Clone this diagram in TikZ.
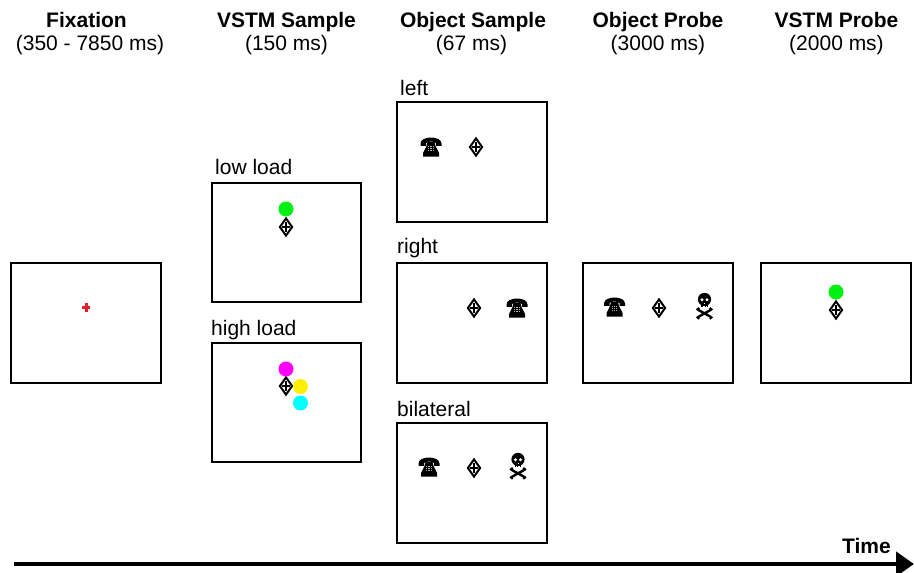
\documentclass[tikz,border=0pt]{standalone}
\usepackage{fontspec}
\setmainfont{Liberation Sans}
\usetikzlibrary{arrows.meta}
\definecolor{dotgreen}{RGB}{0,240,20}
\definecolor{dotmag}{RGB}{255,0,255}
\definecolor{dotyel}{RGB}{255,240,0}
\definecolor{dotcy}{RGB}{0,255,255}
\definecolor{crossred}{RGB}{225,30,40}
\tikzset{
  x=1pt,y=-1pt,
  screen/.style={draw=black,line width=1.4pt,fill=white,inner sep=0pt},
  wide/.style={screen,minimum width=150pt,minimum height=120pt},
  narrow/.style={screen,minimum width=149pt,minimum height=119pt},
  head/.style={align=center,font=\fontsize{21}{23.5}\selectfont,anchor=north,inner sep=0pt},
  lab/.style={anchor=base west,font=\fontsize{21}{23}\selectfont,inner sep=0pt},
  dot/.style={circle,minimum size=15pt,inner sep=0pt},
  fixd/.pic={
    \draw[line width=2pt,miter limit=10] (-6.1,0)--(0,-8.6)--(6.1,0)--(0,8.6)--cycle;
    \draw[line width=1.1pt] (-3.6,0)--(3.6,0) (0,-5)--(0,5);
  },
  phone/.pic={
    % handset
    \fill[black] (-10.5,-3.5) .. controls (-10.5,-11.5) and (10.5,-11.5) .. (10.5,-3.5)
      -- (10.5,-1.2) -- (5,-1.2) -- (5,-4) .. controls (2,-6) and (-2,-6) .. (-5,-4)
      -- (-5,-1.2) -- (-10.5,-1.2) -- cycle;
    % body
    \fill[black] (-3.5,-5) -- (3.5,-5) -- (4.5,-1) -- (8,6) -- (8,9.6) -- (-8,9.6) -- (-8,6) -- (-4.5,-1) -- cycle;
    % dial
    \foreach \dx in {-2.2,0,2.2}\foreach \dy in {0,2.2,4.4}
      \fill[white!70!black] (\dx-.55,\dy-1.2) rectangle (\dx+.55,\dy-.1);
  },
  skull/.pic={
    % cranium and jaw
    \fill[black] (0,-6.6) circle[radius=6.6];
    \fill[black] (-3.4,-3.5) rectangle (3.4,1.2);
    \fill[white] (-2.5,-6.2) circle[radius=1.6];
    \fill[white] (2.5,-6.2) circle[radius=1.6];
    \fill[white] (-.5,-3.2) rectangle (.5,-2);
    \foreach \tx in {-1.7,0,1.7}\fill[white] (\tx-.25,-.4) rectangle (\tx+.25,1.2);
    % crossed bones
    \draw[line width=2.4pt,line cap=round] (-6.4,3.8) -- (6.4,11) (6.4,3.8) -- (-6.4,11);
    \foreach \bx/\by in {-7.2/3.4,-6/2.5,7.2/3.4,6/2.5,-7.2/11.4,-6/12.3,7.2/11.4,6/12.3}
      \fill[black] (\bx,\by) circle[radius=1.3];
  }
}
\begin{document}
\begin{tikzpicture}
\useasboundingbox (0,0) rectangle (914,573);
\fill[white] (0,0) rectangle (914,573);
% headers
\node[head] (h1) at (86.5,12) {\textbf{Fixation}\\\hspace*{7pt}(350 - 7850 ms)};
\node[head] (h2) at (286.5,12) {\textbf{VSTM Sample}\\(150 ms)};
\node[head] (h3) at (473,12) {\textbf{Object Sample}\\\hspace*{-3pt}(67 ms)};
\node[head] (h4) at (658,12) {\textbf{Object Probe}\\(3000 ms)};
\node[head] (h5) at (836.5,12) {\textbf{VSTM Probe}\\(2000 ms)};
% screens
\node[wide] (fix) at (86,323) {};
\node[narrow] (low) at (286.5,242.5) {};
\node[narrow] (high) at (286.5,402.5) {};
\node[wide] (left) at (472,162) {};
\node[wide] (right) at (472,323) {};
\node[wide] (bil) at (472,483) {};
\node[wide] (op) at (658,323) {};
\node[wide] (vp) at (836,323) {};
% labels
\node[lab] (llow) at (215,174) {low load};
\node[lab] (lhigh) at (211,335) {high load};
\node[lab] (lleft) at (400,95) {left};
\node[lab] (lright) at (397,253) {right};
\node[lab] (lbil) at (397,416) {bilateral};
\node[anchor=base east,inner sep=0pt,font=\bfseries\fontsize{21}{23}\selectfont] (ltime) at (891,553) {Time};
% fixation cross
\fill[crossred] (82,305.8) rectangle (90.4,308.8);
\fill[crossred] (84.7,303) rectangle (87.7,311.6);
% diamonds
\pic at (286,227) {fixd};
\pic at (286,386) {fixd};
\pic at (476,147) {fixd};
\pic at (474,308) {fixd};
\pic at (474,468) {fixd};
\pic at (659,308) {fixd};
\pic at (836,310) {fixd};
% coloured dots
\node[dot,fill=dotgreen] (g1) at (286,209) {};
\node[dot,fill=dotmag] (m) at (286,369) {};
\node[dot,fill=dotyel] (y) at (300.5,386.5) {};
\node[dot,fill=dotcy] (c) at (300.5,403) {};
\node[dot,fill=dotgreen] (g2) at (836,292) {};
% object symbols
\pic at (431,147) {phone};
\pic at (517,308) {phone};
\pic at (429,467) {phone};
\pic at (614.5,307) {phone};
\pic at (518,466) {skull};
\pic at (704.5,306) {skull};
% time arrow
\coordinate (ta) at (14,564);
\coordinate (tb) at (914,564);
\draw[line width=4.5pt,-{Triangle[length=18pt,width=24pt]}] (ta) -- (tb);
\end{tikzpicture}
\end{document}
